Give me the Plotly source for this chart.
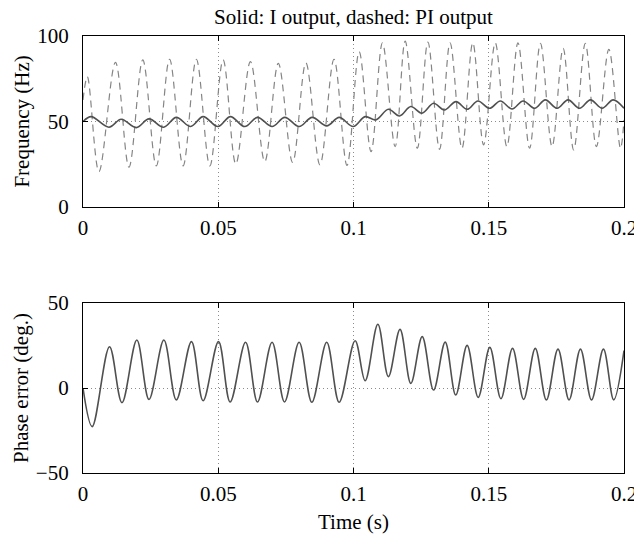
import plotly.graph_objects as go
from plotly.subplots import make_subplots

# I output (solid) - turning points
i_time = [0.0, 0.0030, 0.0096, 0.0141, 0.0197, 0.0244, 0.0298, 0.0345, 0.0398, 0.0444,
          0.0499, 0.0545, 0.0598, 0.0645, 0.0699, 0.0746, 0.0799, 0.0847, 0.0901, 0.0947,
          0.0999, 0.1043, 0.1083, 0.1129, 0.1170, 0.1212, 0.1253, 0.1296, 0.1336, 0.1379,
          0.1420, 0.1460, 0.1503, 0.1543, 0.1586, 0.1627, 0.1670, 0.1709, 0.1753, 0.1793,
          0.1836, 0.1876, 0.1919, 0.1960, 0.2000]
i_freq = [49.9, 52.8, 46.6, 51.3, 46.4, 51.5, 46.6, 52.4, 47.0, 52.8,
          47.0, 52.8, 47.0, 52.4, 47.0, 52.4, 47.0, 52.4, 47.4, 52.4,
          47.0, 52.8, 50.9, 57.1, 53.2, 58.7, 54.8, 60.6, 56.7, 61.6,
          57.1, 62.0, 57.7, 62.0, 57.3, 62.0, 57.7, 62.6, 57.7, 62.6,
          57.7, 62.6, 57.7, 62.6, 57.7]

# PI output (dashed)
pi_time = [0.0, 0.0016, 0.0059, 0.0120, 0.0170, 0.0221, 0.0271, 0.0320, 0.0370, 0.0419,
           0.0469, 0.0518, 0.0565, 0.0619, 0.0672, 0.0722, 0.0775, 0.0824, 0.0876, 0.0928,
           0.0976, 0.1021, 0.1065, 0.1107, 0.1154, 0.1191, 0.1236, 0.1275, 0.1318, 0.1357,
           0.1401, 0.1441, 0.1481, 0.1524, 0.1567, 0.1608, 0.1651, 0.1691, 0.1734, 0.1775,
           0.1814, 0.1857, 0.1898, 0.1944, 0.1987, 0.2000]
pi_freq = [62.6, 76.2, 20.6, 84.6, 23.2, 86.0, 24.0, 86.4, 24.0, 86.4,
           24.0, 86.0, 25.1, 85.0, 26.5, 84.0, 26.0, 84.2, 24.6, 86.4,
           24.3, 90.8, 32.3, 96.0, 35.3, 97.0, 34.3, 96.5, 33.7, 96.0,
           34.3, 96.0, 36.3, 96.0, 35.3, 96.0, 34.3, 95.7, 35.3, 92.8,
           33.3, 95.7, 35.3, 92.2, 34.3, 50.9]

# phase error (bottom panel)
ph_time = [0.0, 0.0034, 0.0098, 0.0144, 0.0199, 0.0244, 0.0299, 0.0345, 0.0401, 0.0444,
           0.0501, 0.0544, 0.0601, 0.0645, 0.0699, 0.0745, 0.0799, 0.0846, 0.0901, 0.0947,
           0.1006, 0.1043, 0.1090, 0.1129, 0.1172, 0.1212, 0.1254, 0.1296, 0.1339, 0.1378,
           0.1420, 0.1461, 0.1504, 0.1545, 0.1588, 0.1629, 0.1672, 0.1713, 0.1756, 0.1797,
           0.1839, 0.1880, 0.1924, 0.1962, 0.2000]
ph_err = [0.0, -22.7, 24.3, -8.6, 28.2, -6.7, 28.2, -7.0, 27.3, -7.5,
          27.3, -8.2, 26.9, -8.2, 26.9, -8.2, 26.9, -8.4, 26.9, -8.4,
          27.8, 4.3, 37.5, 6.7, 34.5, 2.7, 30.2, -1.2, 27.0, -4.1,
          25.1, -5.5, 23.9, -6.3, 23.3, -6.7, 23.3, -7.0, 22.9, -7.0,
          22.9, -7.0, 22.9, -7.0, 22.0]

x_ticks = [0, 0.05, 0.1, 0.15, 0.2]
x_labels = ["0", "0.05", "0.1", "0.15", "0.2"]

FONT = "Liberation Serif, Times New Roman, serif"
FS = 21

fig = make_subplots(rows=2, cols=1, vertical_spacing=0.22)

fig.add_trace(go.Scatter(x=pi_time, y=pi_freq, mode="lines", line_shape="spline",
                         line=dict(color="#858585", width=1.2, dash="7px,5px")),
              row=1, col=1)
fig.add_trace(go.Scatter(x=i_time, y=i_freq, mode="lines", line_shape="spline",
                         line=dict(color="#505050", width=1.6)),
              row=1, col=1)
fig.add_trace(go.Scatter(x=ph_time, y=ph_err, mode="lines", line_shape="spline",
                         line=dict(color="#505050", width=1.6)),
              row=2, col=1)

axis_style = dict(showline=True, linecolor="black", linewidth=1.3, mirror="ticks",
                  ticks="inside", ticklen=5, tickcolor="black", automargin=False,
                  showgrid=True, gridcolor="#8c8c8c", griddash="1px,3px", gridwidth=1,
                  zeroline=False, tickfont=dict(family=FONT, size=FS, color="black"))

fig.update_xaxes(range=[0, 0.2], tickvals=x_ticks, ticktext=x_labels,
                 ticklabelstandoff=2, ticklabeloverflow="allow", **axis_style)
fig.update_yaxes(ticklabelstandoff=9, **axis_style)
fig.update_yaxes(range=[0, 100], tickvals=[0, 50, 100], row=1, col=1,
                 title=dict(text="Frequency (Hz)", font=dict(family=FONT, size=FS), standoff=1))
fig.update_yaxes(range=[-50, 50], tickvals=[-50, 0, 50], row=2, col=1,
                 title=dict(text="Phase error (deg.)", font=dict(family=FONT, size=FS), standoff=1))
fig.update_xaxes(title=dict(text="Time (s)", font=dict(family=FONT, size=FS), standoff=8),
                 row=2, col=1)

fig.update_layout(
    width=634, height=536,
    margin=dict(l=83, r=10, t=36, b=63),
    paper_bgcolor="white", plot_bgcolor="white",
    showlegend=False,
    font=dict(family=FONT, size=FS, color="black"),
    title=dict(text="Solid: I output, dashed: PI output", x=0.5, xref="paper", xanchor="center",
               yref="container", y=1 - 17 / 536, yanchor="middle", automargin=False,
               font=dict(family=FONT, size=FS)),
)
fig.layout.yaxis.domain = [0.609, 1.0]
fig.layout.yaxis2.domain = [0.0, 0.389]

# the page body has a default 8px margin; drop it so the figure sits at the window corner
fig.write_html("out.html", config={"displayModeBar": False},
               post_script="document.body.style.margin='0';")
